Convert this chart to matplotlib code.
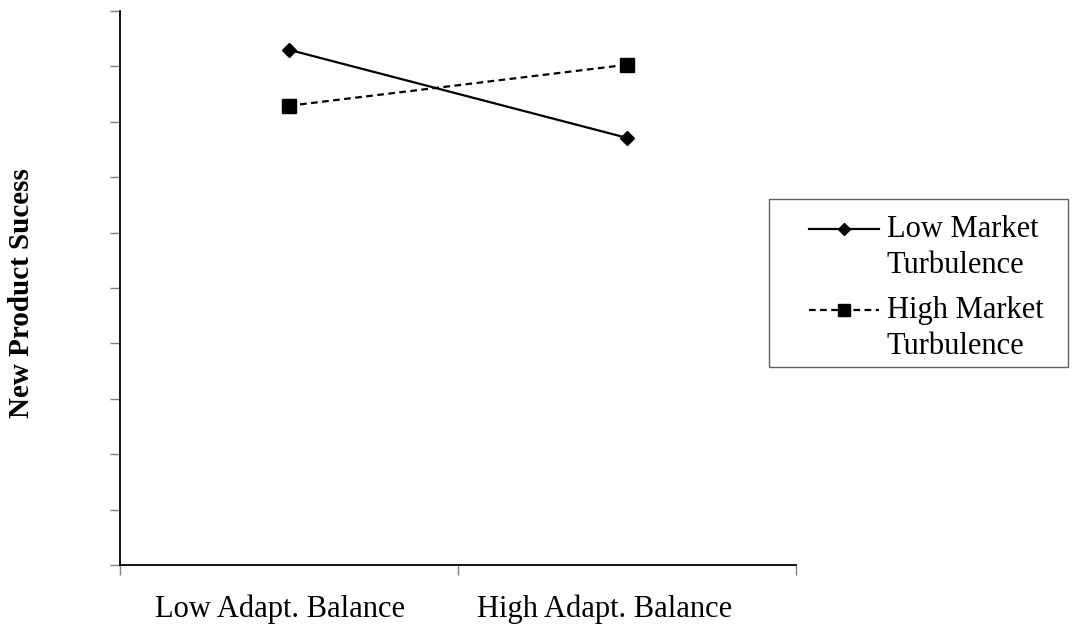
import matplotlib.pyplot as plt
from matplotlib.patches import Rectangle
from matplotlib.legend_handler import HandlerLine2D
import numpy as np

# categories and series
categories = ['Low Adapt. Balance', 'High Adapt. Balance']
low_turb = [9.30, 7.71]
high_turb = [8.29, 9.03]
series_labels = ['Low Market\nTurbulence', 'High Market\nTurbulence']

plt.rcParams['font.family'] = ['Liberation Serif', 'DejaVu Serif']


# legend handle sits on the first line of a two-line label
class FirstLineHandler(HandlerLine2D):
    def create_artists(self, legend, orig_handle, xdescent, ydescent,
                       width, height, fontsize, trans):
        return super().create_artists(legend, orig_handle, xdescent,
                                      ydescent - 1.25 * fontsize, width, height,
                                      fontsize, trans)


W, H = 1084, 631
fig = plt.figure(figsize=(W / 100, H / 100), dpi=100)
ax = fig.add_axes([120 / W, 1 - 565 / H, 676 / W, 554 / H])

x = np.arange(len(categories)) + 0.5
l1, = ax.plot(x, low_turb, color='black', lw=1.6, marker='D', ms=7.5,
              label=series_labels[0])
l2, = ax.plot(x, high_turb, color='black', lw=1.6, ls=(0, (3, 2)), marker='s',
              ms=10, label=series_labels[1])

ax.set_xlim(0, 2)
ax.set_ylim(0, 10)
ax.set_xticks([0, 1, 2])
ax.set_xticklabels([])
ax.set_yticks(np.arange(0, 11, 1))
ax.set_yticklabels([])
ax.tick_params(axis='both', direction='out', length=7, width=1, color='#808080')

for s in ['top', 'right']:
    ax.spines[s].set_visible(False)
for s in ['left', 'bottom']:
    ax.spines[s].set_linewidth(1.3)

# category labels
for xpos, lab in zip([0.236, 0.717], categories):
    ax.text(xpos, -0.08, lab, transform=ax.transAxes, ha='center', va='center',
            fontsize=22)

ax.set_ylabel('New Product Sucess', fontsize=21, fontweight='bold')
ax.yaxis.set_label_coords(-0.126, 0.49)

# legend frame drawn separately, entries placed inside it
fig.patches.append(Rectangle((769 / W, 1 - 367 / H), 299 / W, 168 / H,
                             transform=fig.transFigure, facecolor='none',
                             edgecolor='#606060', lw=1, zorder=5))
leg = ax.legend(loc='upper left', bbox_to_anchor=(809 / W, 1 - 215 / H),
                bbox_transform=fig.transFigure, fontsize=22, frameon=False,
                markerscale=0.8, handlelength=2.3, handletextpad=0.25,
                labelspacing=0.55, borderpad=0, borderaxespad=0,
                handler_map={l1: FirstLineHandler(), l2: FirstLineHandler()})
for t in leg.get_texts():
    t.set_linespacing(1.3)

fig.savefig('out.png', dpi=100)
